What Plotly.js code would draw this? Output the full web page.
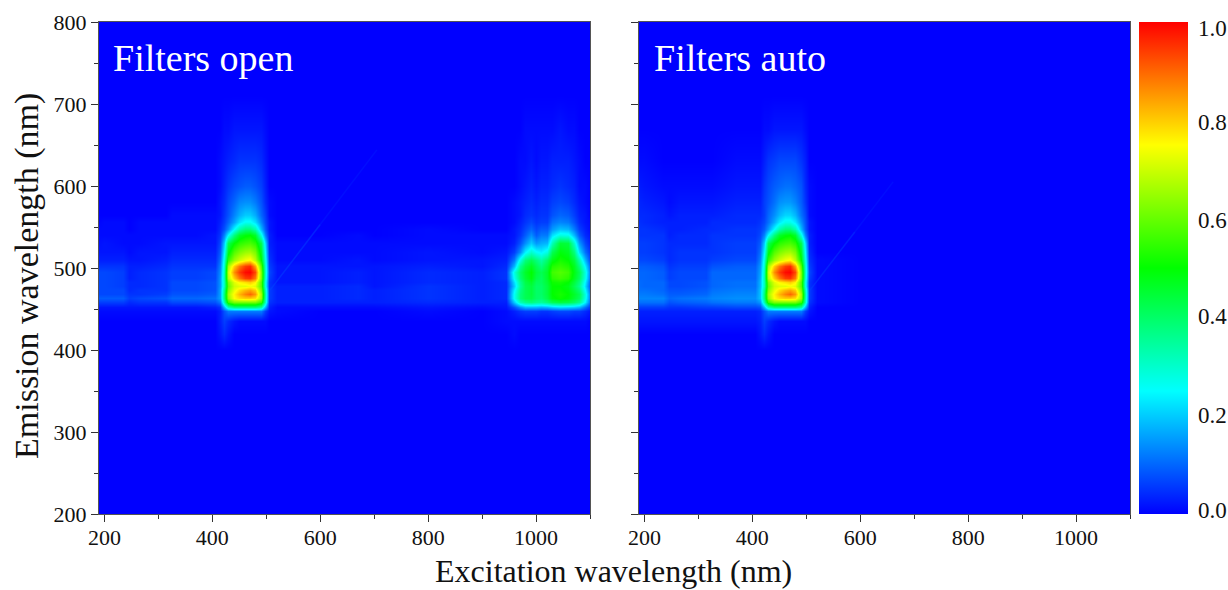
<!DOCTYPE html>
<html>
<head>
<meta charset="utf-8">
<script src="https://cdn.plot.ly/plotly-3.0.1.min.js"></script>
<style>html,body{margin:0;padding:0;background:#fff}#chart{width:1228px;height:590px}</style>
</head>
<body>
<div id="chart"></div>
<script>
const excitationNm = [180,200,235,245,265,315,325,370,405, 415,422,430,440,450,460,470,480,490,497,505, 520,600,670,700,800,900, 945,960,970,980,990,1000,1010,1020,1030,1045,1060,1070,1080,1090,1100,1110];
const emissionNm = [190,400,420,435,448,453,458,463,468,473,478,483,488,495,502,510,520,530,540,548,556,565,580,600,630,670,710,810];

// Intensity in percent of maximum, one row per emission wavelength
const filtersOpenPct = [
[0,0,0,0,0,0,0,0,0, 0,0,0,0,0,0,0,0,0,0,0, 0,0,0,0,0,0, 0,0,0,0,0,0,0,0,0,0,0,0,0,0,0,0],
[0,0,0,0,0,0,0,0,0, 0,0,0,0,0,0,0,0,0,0,0, 0,0,0,0,0,0, 0,0,0,0,0,0,0,0,0,0,0,0,0,0,0,0],
[0,0,0,0,0,0,0,0,0, 2,4,2,0,0,0,0,0,0,0,0, 0,0,0,0,0,0, 0,1,0,0,0,0,0,0,0,0,0,0,0,0,0,0],
[0,0,0,0,0,0,0,0,0, 3,6,4,2,1,1,1,1,1,1,0, 0,0,0,0,0,0, 1,1,1,1,1,1,1,1,1,1,1,1,1,1,0,0],
[1,1,1,1,1,1,1,1,1, 3,8,12,12,12,12,12,12,12,6,2, 1,0,0,0,1,0, 1,3,5,6,6,6,5,5,6,7,7,6,6,4,2,1],
[2,2,2,2,2,2,2,2,3, 5,18,32,38,38,38,38,38,34,18,3, 1,1,1,1,2,1, 2,8,14,18,18,18,17,18,20,22,21,20,18,11,5,2],
[6,6,6,4,5,5,7,7,8, 12,33,55,62,62,62,62,62,55,32,5, 3,3,3,3,4,3, 3,20,32,36,38,36,35,38,42,44,43,40,36,24,10,3],
[9,9,9,6,7,8,10,10,11, 16,38,64,75,78,80,80,78,65,33,6, 3,3,4,3,5,3, 4,26,38,42,43,40,39,43,49,51,49,45,41,27,12,5],
[7,7,7,5,5,6,8,8,9, 16,38,66,76,82,87,90,85,66,34,6, 3,3,4,3,5,3, 4,26,38,42,44,40,40,44,50,52,50,46,42,28,12,5],
[7,7,7,4,5,5,7,7,8, 16,36,63,73,78,82,84,80,62,32,6, 3,3,4,3,5,3, 4,24,37,42,44,40,40,44,50,51,49,44,39,25,10,5],
[7,7,6,4,4,5,7,7,8, 15,32,60,70,72,72,74,72,58,28,5, 3,3,4,2,5,3, 4,20,35,42,44,40,40,44,50,50,48,42,36,22,8,4],
[7,7,6,4,4,5,7,7,8, 15,32,62,72,76,78,80,76,58,28,5, 2,2,3,2,4,3, 4,22,36,43,46,41,41,45,51,52,50,44,38,24,9,4],
[7,7,6,3,4,5,6,6,7, 15,33,68,80,88,94,95,88,62,30,6, 2,2,3,2,4,3, 5,26,39,45,49,43,41,46,54,56,54,47,41,27,11,5],
[7,7,6,3,4,5,6,6,7, 14,32,70,86,94,99,100,93,62,31,7, 2,2,3,2,4,3, 5,28,40,46,50,44,42,46,56,58,56,48,42,28,12,5],
[5,5,5,3,3,4,5,5,5, 13,30,66,80,88,94,96,84,58,30,6, 2,2,2,2,3,2, 4,18,36,43,47,42,38,44,53,55,53,47,38,24,10,4],
[3,3,3,2,2,3,4,4,4, 11,28,55,65,70,74,76,68,50,28,5, 1,1,2,1,2,2, 3,12,28,38,42,38,34,40,48,52,50,44,33,18,7,3],
[2,2,2,1,2,2,3,3,3, 9,24,48,58,62,65,66,62,46,25,4, 1,1,1,1,2,1, 2,6,14,24,30,26,24,28,42,49,47,38,22,11,5,2],
[1,2,1,1,1,2,2,2,2, 7,20,42,50,54,56,57,54,42,22,3, 1,1,1,1,1,1, 1,3,8,14,20,15,17,18,32,45,44,30,15,7,3,1],
[1,1,1,1,1,1,1,1,2, 5,13,25,38,46,49,50,46,28,13,3, 0,0,1,0,1,1, 1,2,5,9,14,9,12,12,22,28,27,18,9,4,2,1],
[1,1,1,0,1,1,1,1,1, 4,8,14,25,33,38,38,33,18,9,2, 0,0,0,0,1,0, 0,2,4,7,10,7,9,9,15,19,18,12,6,3,1,0],
[0,1,1,0,1,1,1,1,1, 3,6,10,16,22,26,26,22,13,7,2, 0,0,0,0,0,0, 0,1,3,5,7,5,6,6,11,13,12,8,4,2,1,0],
[0,0,0,0,0,0,1,1,1, 2,5,8,13,17,20,20,17,10,6,1, 0,0,0,0,0,0, 0,1,2,4,5,4,5,5,8,10,9,6,3,2,0,0],
[0,0,0,0,0,0,0,0,0, 2,4,7,10,13,14,14,12,8,4,1, 0,0,0,0,0,0, 0,1,2,3,4,3,4,4,6,7,6,4,2,1,0,0],
[0,0,0,0,0,0,0,0,0, 1,3,5,7,8,9,9,8,6,3,0, 0,0,0,0,0,0, 0,0,1,2,3,2,3,3,4,5,4,3,1,1,0,0],
[0,0,0,0,0,0,0,0,0, 1,2,3,4,5,5,5,5,4,2,0, 0,0,0,0,0,0, 0,0,1,1,2,1,2,2,3,3,3,2,1,0,0,0],
[0,0,0,0,0,0,0,0,0, 0,1,1,2,2,2,2,2,2,1,0, 0,0,0,0,0,0, 0,0,0,1,1,1,1,1,1,2,1,1,0,0,0,0],
[0,0,0,0,0,0,0,0,0, 0,0,0,0,0,0,0,0,0,0,0, 0,0,0,0,0,0, 0,0,0,0,0,0,0,0,0,0,0,0,0,0,0,0],
[0,0,0,0,0,0,0,0,0, 0,0,0,0,0,0,0,0,0,0,0, 0,0,0,0,0,0, 0,0,0,0,0,0,0,0,0,0,0,0,0,0,0,0]
];
const filtersAutoPct = [
[0,0,0,0,0,0,0,0,0, 0,0,0,0,0,0,0,0,0,0,0, 0,0,0,0,0,0, 0,0,0,0,0,0,0,0,0,0,0,0,0,0,0,0],
[0,0,0,0,0,0,0,0,0, 0,0,0,0,0,0,0,0,0,0,0, 0,0,0,0,0,0, 0,0,0,0,0,0,0,0,0,0,0,0,0,0,0,0],
[0,0,0,0,0,0,0,0,0, 2,4,2,0,0,0,0,0,0,0,0, 0,0,0,0,0,0, 0,0,0,0,0,0,0,0,0,0,0,0,0,0,0,0],
[2,2,2,2,2,2,2,2,2, 3,6,4,2,1,1,1,1,1,1,0, 0,0,0,0,0,0, 0,0,0,0,0,0,0,0,0,0,0,0,0,0,0,0],
[3,3,3,3,3,3,3,3,3, 4,8,12,12,12,12,12,12,12,6,2, 0,0,0,0,0,0, 0,0,0,0,0,0,0,0,0,0,0,0,0,0,0,0],
[6,6,6,5,5,6,6,7,7, 8,18,32,38,38,38,38,38,34,18,3, 0,0,0,0,0,0, 0,0,0,0,0,0,0,0,0,0,0,0,0,0,0,0],
[11,11,11,8,9,10,11,12,12, 15,33,55,62,62,62,62,62,55,32,5, 1,0,0,0,0,0, 0,0,0,0,0,0,0,0,0,0,0,0,0,0,0,0],
[13,13,13,10,11,12,13,14,14, 19,38,64,75,78,80,80,78,65,33,6, 1,0,0,0,0,0, 0,0,0,0,0,0,0,0,0,0,0,0,0,0,0,0],
[12,12,11,9,9,10,12,13,13, 19,38,66,76,82,87,90,85,66,34,6, 1,0,0,0,0,0, 0,0,0,0,0,0,0,0,0,0,0,0,0,0,0,0],
[11,11,10,8,8,9,11,12,12, 19,36,63,73,78,82,84,80,62,32,6, 1,0,0,0,0,0, 0,0,0,0,0,0,0,0,0,0,0,0,0,0,0,0],
[11,10,10,7,7,8,10,11,11, 18,32,60,70,72,72,74,72,58,28,5, 1,0,0,0,0,0, 0,0,0,0,0,0,0,0,0,0,0,0,0,0,0,0],
[11,10,10,7,7,8,10,11,11, 18,32,62,72,76,78,80,76,58,28,5, 1,0,0,0,0,0, 0,0,0,0,0,0,0,0,0,0,0,0,0,0,0,0],
[10,10,9,6,7,7,10,10,10, 17,33,68,80,88,94,95,88,62,30,6, 1,0,0,0,0,0, 0,0,0,0,0,0,0,0,0,0,0,0,0,0,0,0],
[10,10,9,6,7,7,10,10,10, 16,32,70,86,94,99,100,93,62,31,7, 1,0,0,0,0,0, 0,0,0,0,0,0,0,0,0,0,0,0,0,0,0,0],
[9,9,8,5,6,6,8,9,9, 15,30,66,80,88,94,96,84,58,30,6, 1,0,0,0,0,0, 0,0,0,0,0,0,0,0,0,0,0,0,0,0,0,0],
[7,7,6,4,5,5,6,7,7, 13,28,55,65,70,74,76,68,50,28,5, 1,0,0,0,0,0, 0,0,0,0,0,0,0,0,0,0,0,0,0,0,0,0],
[6,6,5,4,5,5,5,6,6, 11,24,48,58,62,65,66,62,46,25,4, 0,0,0,0,0,0, 0,0,0,0,0,0,0,0,0,0,0,0,0,0,0,0],
[6,6,5,4,4,4,5,6,6, 9,20,42,50,54,56,57,54,42,22,3, 0,0,0,0,0,0, 0,0,0,0,0,0,0,0,0,0,0,0,0,0,0,0],
[5,5,5,3,4,4,5,5,5, 7,13,25,38,46,49,50,46,28,13,3, 0,0,0,0,0,0, 0,0,0,0,0,0,0,0,0,0,0,0,0,0,0,0],
[5,5,4,3,3,4,4,5,5, 6,9,15,25,33,38,38,33,18,9,2, 0,0,0,0,0,0, 0,0,0,0,0,0,0,0,0,0,0,0,0,0,0,0],
[5,4,3,3,3,3,4,4,4, 5,7,11,17,23,27,27,23,14,8,2, 0,0,0,0,0,0, 0,0,0,0,0,0,0,0,0,0,0,0,0,0,0,0],
[4,4,3,2,3,3,3,4,4, 4,6,10,14,18,21,21,18,11,7,1, 0,0,0,0,0,0, 0,0,0,0,0,0,0,0,0,0,0,0,0,0,0,0],
[4,3,2,1,2,2,2,3,3, 3,6,8,11,14,15,15,13,9,5,1, 0,0,0,0,0,0, 0,0,0,0,0,0,0,0,0,0,0,0,0,0,0,0],
[3,2,1,1,1,1,1,2,2, 2,5,7,9,10,11,11,10,8,4,1, 0,0,0,0,0,0, 0,0,0,0,0,0,0,0,0,0,0,0,0,0,0,0],
[1,1,0,0,0,0,0,1,1, 1,3,5,6,7,7,7,7,5,3,0, 0,0,0,0,0,0, 0,0,0,0,0,0,0,0,0,0,0,0,0,0,0,0],
[0,0,0,0,0,0,0,0,0, 0,1,1,2,2,2,2,2,2,1,0, 0,0,0,0,0,0, 0,0,0,0,0,0,0,0,0,0,0,0,0,0,0,0],
[0,0,0,0,0,0,0,0,0, 0,0,0,0,0,0,0,0,0,0,0, 0,0,0,0,0,0, 0,0,0,0,0,0,0,0,0,0,0,0,0,0,0,0],
[0,0,0,0,0,0,0,0,0, 0,0,0,0,0,0,0,0,0,0,0, 0,0,0,0,0,0, 0,0,0,0,0,0,0,0,0,0,0,0,0,0,0,0]
];

// Faint diagonal scatter streak, brighter near the peak
const streakOpenNearX = [507, 600];
const streakOpenNearY = [473, 553];
const streakOpenFarX = [600, 705];
const streakOpenFarY = [553, 644];
const streakAutoNearX = [507, 590];
const streakAutoNearY = [473, 544];
const streakAutoFarX = [590, 661];
const streakAutoFarY = [544, 605];

const colorStops = [[0,'#0000ff'],[0.25,'#00ffff'],[0.5,'#00ff00'],[0.75,'#ffff00'],[1,'#ff0000']];
const barTickValues = [0.008,0.201,0.402,0.598,0.797,0.988];
const barTickLabels = ['0.0','0.2','0.4','0.6','0.8','1.0'];
const panelNames = ['Filters open','Filters auto'];
const xAxisName = 'Excitation wavelength (nm)';
const yAxisName = 'Emission wavelength (nm)';

const SERIF = '"Liberation Serif","Times New Roman",serif';
const W = 1228, H = 590;
const toFrac = rows => rows.map(r => r.map(v => v / 100));
const tickColor = '#333';

function xAxis(left, right, anchor) {
  return {domain:[left/W,right/W], range:[190,1100], anchor, tick0:200, dtick:200, ticks:'outside', ticklen:7, tickwidth:1, tickcolor:tickColor,
    ticklabelstandoff:-3,
    minor:{tick0:100,dtick:100,ticks:'outside',ticklen:4,tickwidth:1,tickcolor:tickColor,showgrid:false},
    showgrid:false, zeroline:false, showline:true, mirror:true, linecolor:'#555', linewidth:1,
    tickfont:{family:SERIF,size:22,color:'#111'}};
}
function yAxis(anchor, labelled) {
  return {domain:[1-514/H,1-22/H], range:[200,800], anchor, tick0:200, dtick:100, ticks:'outside', ticklen:7, tickwidth:1, tickcolor:tickColor,
    minor:{dtick:50,ticks:'outside',ticklen:4,tickwidth:1,tickcolor:tickColor,showgrid:false},
    showgrid:false, zeroline:false, showline:true, mirror:true, linecolor:'#555', linewidth:1,
    showticklabels:labelled, tickfont:{family:SERIF,size:22,color:'#111'}};
}
function streak(x, y, xa, ya, color) {
  return {type:'scatter', mode:'lines', x, y, xaxis:xa, yaxis:ya, showlegend:false, hoverinfo:'skip', line:{color,width:1.5}};
}

const traces = [
  {type:'heatmap', x:excitationNm, y:emissionNm, z:toFrac(filtersOpenPct), zmin:0, zmax:1, zsmooth:'best', colorscale:colorStops, showscale:false, xaxis:'x', yaxis:'y'},
  {type:'heatmap', x:excitationNm, y:emissionNm, z:toFrac(filtersAutoPct), zmin:0, zmax:1, zsmooth:'best', colorscale:colorStops, xaxis:'x2', yaxis:'y2',
   colorbar:{x:1139/W, xanchor:'left', xpad:0, y:1-514/H, yanchor:'bottom', ypad:0, len:492/H, lenmode:'fraction', thickness:49, thicknessmode:'pixels',
     outlinewidth:0, ticks:'outside', ticklen:6, tickcolor:'rgba(0,0,0,0)', tickmode:'array', tickvals:barTickValues, ticktext:barTickLabels,
     tickfont:{family:SERIF,size:23,color:'#111'}}},
  streak(streakOpenNearX, streakOpenNearY, 'x', 'y', 'rgba(0,70,255,0.45)'),
  streak(streakOpenFarX, streakOpenFarY, 'x', 'y', 'rgba(0,60,255,0.22)'),
  streak(streakAutoNearX, streakAutoNearY, 'x2', 'y2', 'rgba(0,70,255,0.4)'),
  streak(streakAutoFarX, streakAutoFarY, 'x2', 'y2', 'rgba(0,60,255,0.2)')
];

const layout = {
  width:W, height:H, margin:{l:0,r:0,t:0,b:0}, paper_bgcolor:'#fff', plot_bgcolor:'#0000ff', showlegend:false,
  font:{family:SERIF,color:'#111'},
  xaxis:xAxis(99,590,'y'), yaxis:yAxis('x',true),
  xaxis2:xAxis(639,1130,'y2'), yaxis2:yAxis('x2',false),
  annotations:[
    {xref:'paper',yref:'paper',x:111/W,y:1-58/H,xanchor:'left',yanchor:'middle',showarrow:false,text:panelNames[0],font:{family:SERIF,size:38,color:'#fff'}},
    {xref:'paper',yref:'paper',x:652/W,y:1-58/H,xanchor:'left',yanchor:'middle',showarrow:false,text:panelNames[1],font:{family:SERIF,size:38,color:'#fff'}},
    {xref:'paper',yref:'paper',x:613/W,y:1-571/H,xanchor:'center',yanchor:'middle',showarrow:false,text:xAxisName,font:{family:SERIF,size:32,color:'#111'}},
    {xref:'paper',yref:'paper',x:27/W,y:1-276/H,xanchor:'center',yanchor:'middle',textangle:-90,showarrow:false,text:yAxisName,font:{family:SERIF,size:34,color:'#111'}}
  ]
};
Plotly.newPlot('chart', traces, layout, {displayModeBar:false, staticPlot:true});
</script>
</body>
</html>
